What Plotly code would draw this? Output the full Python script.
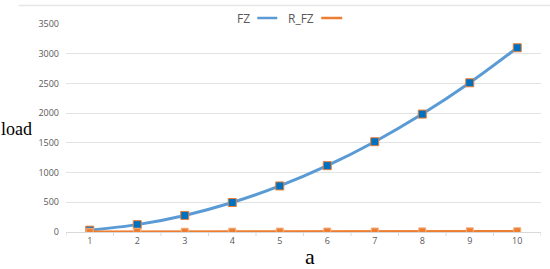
import plotly.graph_objects as go

categories = [1, 2, 3, 4, 5, 6, 7, 8, 9, 10]
fz = [31, 124, 279, 496, 775, 1116, 1519, 1984, 2511, 3100]
r_fz = [3, 4, 5, 6, 7, 8, 9, 11, 12, 13]
y_ticks = [0, 500, 1000, 1500, 2000, 2500, 3000, 3500]

W, H = 550, 269
L, R, T, B = 65.5, 9, 24, 37

fig = go.Figure()
fig.add_trace(go.Scatter(
    x=categories, y=fz, name="FZ", mode="lines+markers", line_shape="spline",
    line=dict(color="#5B9BD5", width=3),
    marker=dict(symbol="square", size=8, color="#0070C0", line=dict(color="#ED7D31", width=1)),
    showlegend=False))
fig.add_trace(go.Scatter(
    x=categories, y=r_fz, name="R_FZ", mode="lines+markers",
    line=dict(color="#ED7D31", width=2.5),
    marker=dict(symbol="square", size=7, color="#ED7D31", line=dict(color="#F4B183", width=1)),
    showlegend=False))

def px_x(p):
    return (p - L) / (W - L - R)

def px_y(p):
    return 1 - (p - T) / (H - T - B)

fig.update_layout(
    width=W, height=H,
    margin=dict(l=L, r=R, t=T, b=B),
    paper_bgcolor="white", plot_bgcolor="white",
    font=dict(family="Open Sans, Liberation Sans, sans-serif", color="#595959", size=9),
    xaxis=dict(range=[0.5, 10.5], tickmode="array", tickvals=categories,
               ticktext=[str(c) for c in categories], showgrid=False,
               showline=True, linecolor="#d9d9d9", linewidth=1, zeroline=False,
               ticks="", tickfont=dict(size=9, color="#595959")),
    yaxis=dict(range=[0, 3500], tickvals=y_ticks, showgrid=True, gridcolor="#e3e3e3",
               gridwidth=1, zeroline=False, showline=False, ticklabelstandoff=6,
               tickfont=dict(size=9, color="#595959")),
    showlegend=False,
)

# boundary tick marks on x axis
for i in range(11):
    fig.add_shape(type="line", xref="x", yref="paper", x0=0.5 + i, x1=0.5 + i,
                  y0=0, y1=px_y(236), line=dict(color="#d9d9d9", width=1))

# chart frame top line
fig.add_shape(type="line", xref="paper", yref="paper", x0=px_x(18), x1=px_x(550),
              y0=px_y(5.5), y1=px_y(5.5), line=dict(color="#e6e6e6", width=1.5))

# legend (text before line sample, as in the reference)
fig.add_annotation(xref="paper", yref="paper", x=px_x(252), y=px_y(18), text="FZ",
                   showarrow=False, xanchor="right", yanchor="middle",
                   font=dict(size=12, color="#595959", family="Open Sans, sans-serif"))
fig.add_shape(type="line", xref="paper", yref="paper", x0=px_x(257), x1=px_x(277),
              y0=px_y(18), y1=px_y(18), line=dict(color="#5B9BD5", width=2.5))
fig.add_annotation(xref="paper", yref="paper", x=px_x(316), y=px_y(18), text="R_FZ",
                   showarrow=False, xanchor="right", yanchor="middle",
                   font=dict(size=12, color="#595959", family="Open Sans, sans-serif"))
fig.add_shape(type="line", xref="paper", yref="paper", x0=px_x(321), x1=px_x(342),
              y0=px_y(18), y1=px_y(18), line=dict(color="#ED7D31", width=2.5))

# axis titles
fig.add_annotation(xref="paper", yref="paper", x=px_x(-2), y=px_y(129), text="load",
                   showarrow=False, xanchor="left", yanchor="middle",
                   font=dict(size=18, color="black", family="Liberation Serif, serif"))
fig.add_annotation(xref="paper", yref="paper", x=px_x(310), y=px_y(256), text="a",
                   showarrow=False, xanchor="center", yanchor="middle",
                   font=dict(size=22, color="black", family="Liberation Serif, serif"))

fig.write_html("out.html", config={"displayModeBar": False},
               post_script="document.body.style.margin='0';")
